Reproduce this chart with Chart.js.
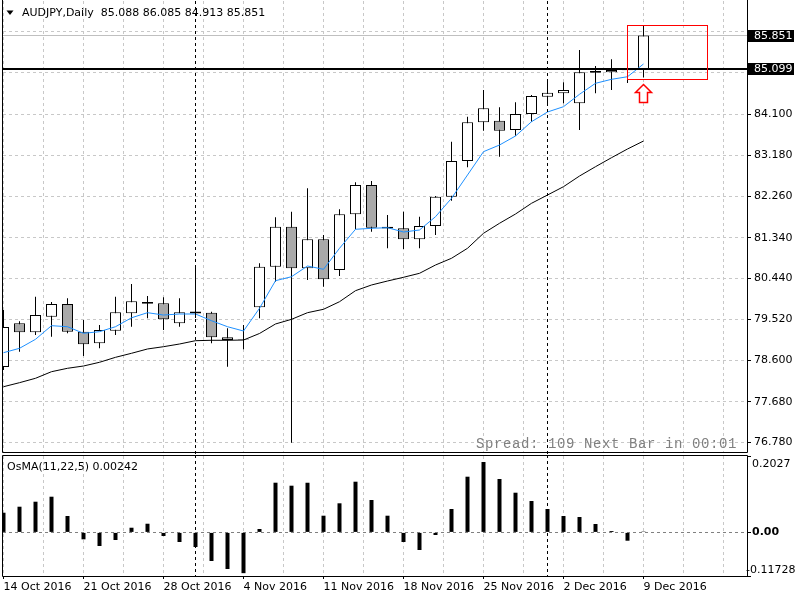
<!DOCTYPE html>
<html><head><meta charset="utf-8">
<script src="https://cdn.jsdelivr.net/npm/chart.js@4/dist/chart.umd.min.js"></script>
<style>
html,body{margin:0;padding:0;background:#fff;width:800px;height:600px;overflow:hidden;}
#wrapA{position:absolute;left:0;top:0;width:800px;height:455px;}
#wrapB{position:absolute;left:0;top:455px;width:800px;height:145px;}
canvas{display:block;}
</style></head><body>
<div id="wrapA"><canvas id="main" width="800" height="455"></canvas></div>
<div id="wrapB"><canvas id="osma" width="800" height="145"></canvas></div>
<script>
// ---------------- data ----------------
const symbolName = 'AUDJPY,Daily';
const dates = ['14 Oct 2016','17 Oct 2016','18 Oct 2016','19 Oct 2016','20 Oct 2016','21 Oct 2016','24 Oct 2016','25 Oct 2016','26 Oct 2016','27 Oct 2016','28 Oct 2016','31 Oct 2016','1 Nov 2016','2 Nov 2016','3 Nov 2016','4 Nov 2016','7 Nov 2016','8 Nov 2016','9 Nov 2016','10 Nov 2016','11 Nov 2016','14 Nov 2016','15 Nov 2016','16 Nov 2016','17 Nov 2016','18 Nov 2016','21 Nov 2016','22 Nov 2016','23 Nov 2016','24 Nov 2016','25 Nov 2016','28 Nov 2016','29 Nov 2016','30 Nov 2016','1 Dec 2016','2 Dec 2016','5 Dec 2016','6 Dec 2016','7 Dec 2016','8 Dec 2016','9 Dec 2016'];
const opens  = [78.454,79.429,79.228,79.576,79.860,79.242,78.983,79.264,79.652,79.865,79.875,79.429,79.650,79.666,79.117,79.055,79.786,80.692,81.585,80.657,81.304,80.619,81.862,82.516,81.545,81.549,81.304,81.601,82.254,83.051,83.915,83.950,83.743,84.100,84.486,84.562,84.339,85.020,85.031,85.075,85.088];
const highs  = [79.726,79.474,80.023,79.905,79.987,79.503,79.391,80.023,80.306,80.038,80.009,79.987,80.730,79.688,79.318,79.391,80.768,81.795,81.920,82.442,81.400,81.973,82.576,82.605,81.846,81.920,81.808,82.270,83.482,84.040,84.636,84.250,84.361,84.524,84.859,84.807,85.528,85.171,85.321,85.120,86.085];
const lows   = [78.387,78.795,79.168,79.130,79.206,78.699,78.871,79.168,79.353,79.541,79.280,79.353,79.548,78.983,78.461,78.849,79.541,80.358,76.765,80.395,80.246,80.485,81.527,81.473,81.103,81.087,81.103,81.400,82.165,82.911,83.727,83.147,83.616,83.928,84.345,84.339,83.743,84.562,84.636,84.792,84.913];
const closes = [79.347,79.228,79.614,79.860,79.242,78.960,79.280,79.675,79.920,79.905,79.518,79.675,79.690,79.117,79.056,79.065,80.692,81.585,80.657,81.304,80.411,81.862,82.516,81.563,81.585,81.304,81.601,82.254,83.051,83.915,84.227,83.727,84.100,84.502,84.575,84.636,85.031,85.060,85.082,85.088,85.851];
const fastMA = [78.773,78.871,79.072,79.376,79.353,79.206,79.242,79.353,79.552,79.666,79.614,79.637,79.637,79.487,79.353,79.257,79.764,80.380,80.469,80.708,80.634,81.103,81.527,81.549,81.563,81.467,81.511,81.808,82.219,82.739,83.259,83.408,83.609,83.928,84.145,84.263,84.540,84.785,84.874,84.932,85.216];
const slowMA = [78.014,78.104,78.202,78.349,78.425,78.476,78.559,78.670,78.760,78.856,78.907,78.967,79.041,79.050,79.050,79.056,79.202,79.414,79.518,79.666,79.742,79.911,80.157,80.284,80.373,80.456,80.545,80.730,80.880,81.103,81.438,81.661,81.868,82.107,82.292,82.478,82.716,82.924,83.125,83.319,83.497];
const osma   = [0.0567,0.0740,0.0884,0.1028,0.0472,-0.0199,-0.0392,-0.0219,0.0135,0.0250,-0.0104,-0.0276,-0.0420,-0.0823,-0.1054,-0.1173,0.0098,0.1431,0.1345,0.1430,0.0481,0.0838,0.1460,0.0933,0.0481,-0.0276,-0.0507,-0.0075,0.0674,0.1604,0.2027,0.1538,0.1143,0.0904,0.0674,0.0472,0.0443,0.0242,0.0040,-0.0239,0.00242];
const priceTicks  = [76.78,77.68,78.60,79.52,80.44,81.34,82.26,83.18,84.10,85.02,85.94];
const priceLabels = ['76.780','77.680','78.600','79.520','80.440','81.340','82.260','83.180','84.100','',''];
const osmaLabelValues = [0.2027, 0, -0.11728];
const osmaLabels = ['0.2027', '0.00', '-0.11728'];
const bidPrice = 85.851;
const hLinePrice = 85.099;
const vLineIdx = [12, 34];
const rectIdx = [39, 44];
const rectPrice = [86.085, 84.88];
const arrowIdx = 40;
const arrowPrice = 84.76;
const spreadText = 'Spread: 109 Next Bar in 00:01';
const osmaName = 'OsMA(11,22,5)';

// ---------------- layout constants ----------------
const FONT = 'DejaVu Sans';
const X_MIN = -1/32;
const X_MAX = X_MIN + 744/16;
const Y_MAX = 86.6218, Y_MIN = 76.5347;
const Y2_MAX = 0.2200, Y2_MIN = -0.1255;
const gridX = []; for (let v = 0; v <= X_MAX; v += 2.5) gridX.push(v);
const GRID = '#c8c8c8';

const xy = arr => arr.map((v, i) => ({x: i, y: v}));
const noPad = s => { s.paddingTop = 0; s.paddingBottom = 0; s.paddingLeft = 0; s.paddingRight = 0; };

const overlayA = {
  id: 'overlayA',
  beforeDatasetsDraw(chart) {
    const {ctx, chartArea: a, scales: {y}} = chart;
    const py = Math.round(y.getPixelForValue(bidPrice)) - 0.5;
    ctx.save();
    ctx.strokeStyle = '#c0c0c0'; ctx.lineWidth = 1;
    ctx.beginPath(); ctx.moveTo(a.left, py); ctx.lineTo(a.right, py); ctx.stroke();
    ctx.restore();
  },
  afterDatasetsDraw(chart) {
    const {ctx, chartArea: a, scales: {x, y}} = chart;
    ctx.save();
    // horizontal line
    const hy = Math.round(y.getPixelForValue(hLinePrice));
    ctx.strokeStyle = '#000'; ctx.lineWidth = 2;
    ctx.beginPath(); ctx.moveTo(a.left, hy); ctx.lineTo(a.right, hy); ctx.stroke();
    // vertical dashed lines
    ctx.lineWidth = 1; ctx.setLineDash([3, 3]);
    vLineIdx.forEach(i => {
      const px = Math.floor(x.getPixelForValue(i)) + 0.5;
      ctx.beginPath(); ctx.moveTo(px, a.top); ctx.lineTo(px, chart.height); ctx.stroke();
    });
    ctx.setLineDash([]);
    // rectangle
    const rx0 = Math.floor(x.getPixelForValue(rectIdx[0])) + 0.5;
    const rx1 = Math.floor(x.getPixelForValue(rectIdx[1])) + 0.5;
    const ry0 = Math.round(y.getPixelForValue(rectPrice[0])) + 0.5;
    const ry1 = Math.round(y.getPixelForValue(rectPrice[1])) + 0.5;
    ctx.strokeStyle = '#ff0000'; ctx.lineWidth = 1;
    ctx.strokeRect(rx0, ry0, rx1 - rx0, ry1 - ry0);
    // arrow
    const ax = Math.floor(x.getPixelForValue(arrowIdx)) + 0.5;
    const ay = Math.round(y.getPixelForValue(arrowPrice)) + 0.5;
    ctx.beginPath();
    ctx.moveTo(ax, ay);
    ctx.lineTo(ax + 8, ay + 8); ctx.lineTo(ax + 4, ay + 8); ctx.lineTo(ax + 4, ay + 18);
    ctx.lineTo(ax - 4, ay + 18); ctx.lineTo(ax - 4, ay + 8); ctx.lineTo(ax - 8, ay + 8);
    ctx.closePath();
    ctx.fillStyle = '#fff'; ctx.fill();
    ctx.strokeStyle = '#ff0000'; ctx.lineWidth = 1.5; ctx.stroke();
    // spread text
    ctx.font = '14px "Liberation Mono", monospace';
    ctx.letterSpacing = '0.6px';
    ctx.fillStyle = '#808080'; ctx.textAlign = 'left'; ctx.textBaseline = 'alphabetic';
    ctx.fillText(spreadText, 476, 448);
    ctx.letterSpacing = '0px';
    // title
    ctx.fillStyle = '#000';
    ctx.beginPath(); ctx.moveTo(6.5, 10.5); ctx.lineTo(13.5, 10.5); ctx.lineTo(10, 15); ctx.closePath(); ctx.fill();
    ctx.font = '11px "' + FONT + '"'; ctx.textBaseline = 'middle';
    const n = opens.length - 1;
    ctx.fillText(symbolName + '  ' + [opens[n], highs[n], lows[n], closes[n]].map(v => v.toFixed(3)).join(' '), 22, 13);
    // borders
    ctx.strokeStyle = '#000'; ctx.lineWidth = 1;
    ctx.beginPath();
    ctx.moveTo(a.left - 0.5, 0); ctx.lineTo(a.left - 0.5, a.bottom - 0.5);
    ctx.lineTo(a.right + 0.5, a.bottom - 0.5); ctx.lineTo(a.right + 0.5, 0);
    ctx.stroke();
    // highlighted price labels
    [bidPrice, hLinePrice].forEach(p => {
      const py = Math.round(y.getPixelForValue(p));
      ctx.fillStyle = '#000'; ctx.fillRect(748, py - 6, 46, 12);
      ctx.fillStyle = '#fff'; ctx.textBaseline = 'middle'; ctx.textAlign = 'left';
      ctx.fillText(p.toFixed(3), 754, py);
    });
    ctx.restore();
  }
};

new Chart(document.getElementById('main'), {
  type: 'bar',
  data: { datasets: [
    { type: 'line', label: 'MA fast', data: xy(fastMA), borderColor: '#1e90ff', borderWidth: 1, pointRadius: 0, tension: 0, order: 0 },
    { type: 'line', label: 'MA slow', data: xy(slowMA), borderColor: '#000', borderWidth: 1, pointRadius: 0, tension: 0, order: 1 },
    { type: 'bar', label: 'body', data: opens.map((o, i) => ({x: i, y: [o, closes[i]]})),
      backgroundColor: opens.map((o, i) => closes[i] >= o ? '#ffffff' : '#a9a9a9'),
      borderColor: '#000', borderWidth: 1, borderSkipped: false, barThickness: 11, grouped: false, inflateAmount: 0, clip: 0, order: 2 },
    { type: 'bar', label: 'wick', data: lows.map((l, i) => ({x: i, y: [l, highs[i]]})),
      backgroundColor: '#000', borderWidth: 0, barThickness: 1, grouped: false, inflateAmount: 0, clip: 0, order: 3 }
  ]},
  options: {
    responsive: false, animation: false, events: [],
    layout: { autoPadding: false, padding: { left: 3, top: 1, right: 0, bottom: 2 } },
    plugins: { legend: { display: false }, tooltip: { enabled: false } },
    scales: {
      x: { type: 'linear', min: X_MIN, max: X_MAX, offset: false,
        afterBuildTicks: s => { s.ticks = gridX.map(v => ({value: v})); },
        afterFit: s => { s.height = 0; noPad(s); },
        ticks: { display: false },
        grid: { color: GRID, drawTicks: false, offset: false },
        border: { display: false, dash: [3, 3] } },
      y: { position: 'right', min: Y_MIN, max: Y_MAX,
        afterBuildTicks: s => { s.ticks = priceTicks.map(v => ({value: v})); },
        afterFit: s => { s.width = 53; noPad(s); },
        ticks: { callback: (v, i) => priceLabels[i], color: '#000', font: { family: FONT, size: 11 }, padding: 3 },
        grid: { color: GRID, tickColor: '#000', tickLength: 4 },
        border: { display: false, dash: [3, 3] } }
    }
  },
  plugins: [overlayA]
});

const overlayB = {
  id: 'overlayB',
  beforeDatasetsDraw(chart) {
    const {ctx, chartArea: a, scales: {y}} = chart;
    const zy = Math.round(y.getPixelForValue(0)) + 0.5;
    ctx.save();
    ctx.strokeStyle = '#808080'; ctx.lineWidth = 1; ctx.setLineDash([3, 3]);
    ctx.beginPath(); ctx.moveTo(a.left, zy); ctx.lineTo(a.right, zy); ctx.stroke();
    ctx.restore();
  },
  afterDatasetsDraw(chart) {
    const {ctx, chartArea: a, scales: {x, y}} = chart;
    ctx.save();
    ctx.strokeStyle = '#000'; ctx.lineWidth = 1; ctx.setLineDash([3, 3]);
    vLineIdx.forEach(i => {
      const px = Math.floor(x.getPixelForValue(i)) + 0.5;
      ctx.beginPath(); ctx.moveTo(px, 0); ctx.lineTo(px, a.bottom); ctx.stroke();
    });
    ctx.setLineDash([]);
    ctx.beginPath();
    ctx.rect(a.left - 0.5, a.top - 0.5, a.right - a.left + 1, a.bottom - a.top + 1);
    ctx.stroke();
    ctx.fillStyle = '#000'; ctx.textBaseline = 'middle'; ctx.textAlign = 'left';
    ctx.font = '11px "' + FONT + '"';
    ctx.fillText(osmaName + ' ' + osma[osma.length - 1].toFixed(5), 7, 12);
    // axis labels
    const offs = [2, 0, -3];
    const xs = [752, 752, 746];
    osmaLabelValues.forEach((v, i) => {
      ctx.font = (v === 0 ? 'bold ' : '') + '11px "' + FONT + '"';
      ctx.fillText(osmaLabels[i], xs[i], y.getPixelForValue(v) + offs[i]);
    });
    ctx.restore();
  }
};

new Chart(document.getElementById('osma'), {
  type: 'bar',
  data: { datasets: [
    { label: 'OsMA', data: xy(osma), backgroundColor: '#000', borderWidth: 0, barThickness: 4, grouped: false, inflateAmount: 0 }
  ]},
  options: {
    responsive: false, animation: false, events: [],
    layout: { autoPadding: false, padding: { left: 3, top: 1, right: 0, bottom: 0 } },
    plugins: { legend: { display: false }, tooltip: { enabled: false } },
    scales: {
      x: { type: 'linear', min: X_MIN, max: X_MAX, offset: false,
        afterBuildTicks: s => { s.ticks = gridX.map(v => ({value: v})); },
        afterFit: s => { s.height = 24; noPad(s); },
        ticks: { autoSkip: false, maxRotation: 0, minRotation: 0, align: 'start', padding: 2,
          color: '#000', font: { family: FONT, size: 11 },
          callback: v => (Number.isInteger(v) && v % 5 === 0 && dates[v]) ? dates[v] : '' },
        grid: { color: GRID, offset: false, tickLength: 3,
          tickColor: c => (c.tick && Number.isInteger(c.tick.value) && c.tick.value % 5 === 0 && dates[c.tick.value]) ? '#000' : 'rgba(0,0,0,0)' },
        border: { display: false, dash: [3, 3] } },
      y: { position: 'right', min: Y2_MIN, max: Y2_MAX,
        afterBuildTicks: s => { s.ticks = [Y2_MAX, 0, Y2_MIN].map(v => ({value: v})); },
        afterFit: s => { s.width = 53; noPad(s); },
        ticks: { display: false },
        grid: { drawOnChartArea: false, tickColor: '#000', tickLength: 4 },
        border: { display: false } }
    }
  },
  plugins: [overlayB]
});
</script>
</body></html>
